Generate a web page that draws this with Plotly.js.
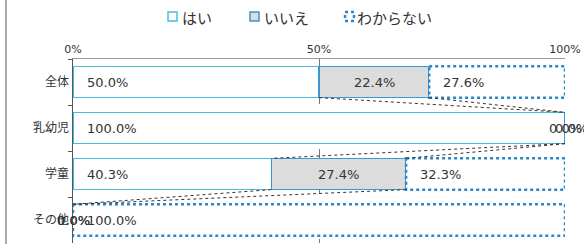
<!DOCTYPE html>
<html><head><meta charset="utf-8">
<script src="https://cdn.plot.ly/plotly-3.0.1.min.js"></script>
<style>body{margin:0;background:#fff}#c{width:584px;height:244px}</style>
</head><body><div id="c"></div>
<script>
const categories = ['全体', '乳幼児', '学童', 'その他'];
const seriesNames = ['はい', 'いいえ', 'わからない'];
const yes = [50.0, 100.0, 40.3, 0.0];
const no = [22.4, 0.0, 27.4, 0.0];
const unknown = [27.6, 0.0, 32.3, 100.0];
const xTicks = [0, 50, 100];

const BW = 0.68;
const blueDot = '#2a86c8';
const cyan = '#45bde0';
const blue = '#3b97d2';
const values = [yes, no, unknown];
const labelFont = {family:'DejaVu Sans, Verdana, sans-serif', size:13, color:'#333'};

// plot-area geometry (for legend placement in paper coords)
const ML = 73, MR = 19, MT = 59, MB = 1, W = 584, H = 244;
const PW = W - ML - MR, PH = H - MT - MB;
const px = v => (v - ML) / PW;
const py = v => 1 - (v - MT) / PH;

const traces = [
  {type:'bar', orientation:'h', name:seriesNames[0], y:categories, x:yes, width:BW,
   marker:{color:'#ffffff', line:{color:cyan, width:1.5}}, hoverinfo:'skip'},
  {type:'bar', orientation:'h', name:seriesNames[1], y:categories, x:no, width:BW,
   marker:{color:'#dcdcdc', line:{color:blue, width:1.5}}, hoverinfo:'skip'},
  {type:'bar', orientation:'h', name:seriesNames[2], y:categories, x:unknown, width:BW,
   marker:{color:'#ffffff', line:{color:'rgba(0,0,0,0)', width:0}}, hoverinfo:'skip'}
];

const shapes = [];
const annotations = [];
categories.forEach((c, i) => {
  const start = yes[i] + no[i];
  const end = start + unknown[i];
  if (unknown[i] > 0) {
    shapes.push({type:'rect', xref:'x', yref:'y', x0:start, x1:end, y0:i - BW/2, y1:i + BW/2,
      line:{color:blueDot, width:2.5, dash:'dot'}, fillcolor:'rgba(0,0,0,0)', layer:'above'});
  }
});
for (let i = 0; i < categories.length - 1; i++) {
  const a1 = yes[i], a2 = yes[i] + no[i];
  const b1 = yes[i+1], b2 = yes[i+1] + no[i+1];
  [[a1, b1], [a2, b2]].forEach(([p, q]) => {
    shapes.push({type:'line', xref:'x', yref:'y', x0:p, x1:q, y0:i + BW/2, y1:i + 1 - BW/2,
      line:{color:'#333', width:1, dash:'dot'}});
  });
}
shapes.push({type:'line', xref:'paper', yref:'paper', x0:px(6), x1:px(6), y0:py(245), y1:py(0),
  line:{color:'#aaaaaa', width:2}});

// custom legend
const legendItems = [
  {name:seriesNames[0], sx:168, tx:180, fill:'#ffffff', line:{color:cyan, width:1.5}},
  {name:seriesNames[1], sx:250, tx:262, fill:'#dcdcdc', line:{color:blue, width:1.5}},
  {name:seriesNames[2], sx:345, tx:355, fill:'#ffffff', line:{color:blueDot, width:2.5, dash:'dot'}}
];
legendItems.forEach(it => {
  shapes.push({type:'rect', xref:'paper', yref:'paper', x0:px(it.sx), x1:px(it.sx + 9),
    y0:py(21), y1:py(12), fillcolor:it.fill, line:it.line});
  annotations.push({xref:'paper', yref:'paper', x:px(it.tx), y:py(17), xanchor:'left', yanchor:'middle',
    text:it.name, showarrow:false,
    font:{family:'Noto Sans CJK JP, sans-serif', size:15, color:'#333'}});
});

// data labels: はい / わからない at segment base, いいえ centred
categories.forEach((c, i) => {
  let cum = 0;
  values.forEach((arr, s) => {
    const v = arr[i];
    const lbl = v.toFixed(1) + '%';
    const a = {x:cum, y:c, xref:'x', yref:'y', text:lbl, showarrow:false, font:labelFont};
    if (s === 1) {
      a.x = cum + v / 2; a.xanchor = 'center';
    } else if (v === 0 && s === 0) {
      a.xanchor = 'center';
    } else if (v === 0) {
      a.xanchor = 'left'; a.xshift = -12;
    } else {
      a.xanchor = 'left'; a.xshift = 12;
    }
    annotations.push(a);
    cum += v;
  });
});

const layout = {
  width:W, height:H,
  margin:{l:ML, r:MR, t:MT, b:MB},
  barmode:'stack', bargap:0.32,
  paper_bgcolor:'#fff', plot_bgcolor:'#fff',
  showlegend:false,
  xaxis:{side:'top', range:[0, 100], tickvals:xTicks, ticktext:xTicks.map(v => v + '%'),
    showgrid:true, gridcolor:'#777', griddash:'dash', gridwidth:1,
    zeroline:false, showline:true, linecolor:'#999', linewidth:1.5, ticks:'',
    tickfont:{family:'DejaVu Sans, Verdana, sans-serif', size:11, color:'#333'}},
  yaxis:{type:'category', autorange:'reversed', showline:true, linecolor:'#555', linewidth:1.5,
    ticks:'outside', tickson:'boundaries', ticklen:4, tickcolor:'#555', showgrid:false,
    tickfont:{family:'Noto Sans CJK JP, sans-serif', size:12, color:'#333'}},
  shapes:shapes, annotations:annotations
};

Plotly.newPlot('c', traces, layout, {staticPlot:true, displayModeBar:false});
</script></body></html>
